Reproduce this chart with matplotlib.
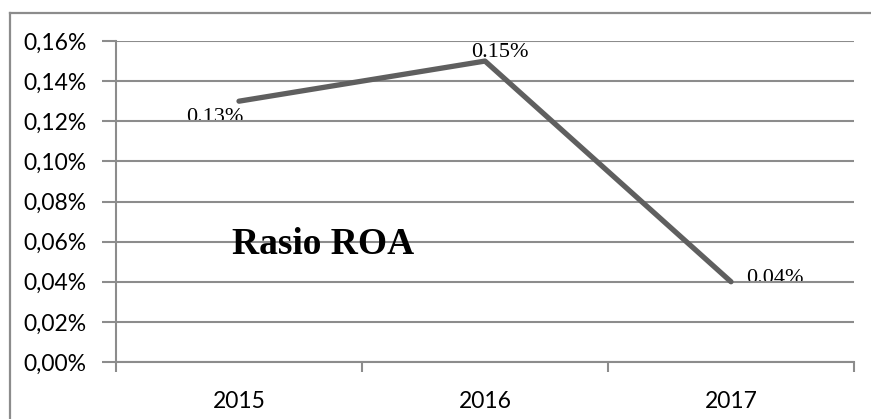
import matplotlib.pyplot as plt
from matplotlib.lines import Line2D
import numpy as np

years = ['2015', '2016', '2017']
roa = [0.13, 0.15, 0.04]
labels = ['0.13%', '0.15%', '0.04%']
yticks = [0.00, 0.02, 0.04, 0.06, 0.08, 0.10, 0.12, 0.14, 0.16]

grid_col = '#8c8c8c'
line_col = '#5f5f5f'

fig = plt.figure(figsize=(8.71, 4.19), dpi=100)
ax = fig.add_axes([116 / 871, 1 - 362 / 419, (854 - 116) / 871, (362 - 41) / 419])

# outer chart border (only top and left fall inside the image)
bx, by = 10 / 871, 1 - 13 / 419
fig.lines.append(Line2D([bx, 1.0], [by, by], transform=fig.transFigure,
                        color=grid_col, linewidth=1.6))
fig.lines.append(Line2D([bx, bx], [0.0, by], transform=fig.transFigure,
                        color=grid_col, linewidth=1.6))

x = np.arange(len(years))
ax.plot(x, roa, color=line_col, linewidth=3.8, solid_capstyle='round', zorder=3)

ax.set_xlim(-0.5, len(years) - 0.5)
ax.set_ylim(0, 0.16)
ax.set_yticks(yticks)
ax.set_yticklabels(['{:.2f}%'.format(v).replace('.', ',') for v in yticks])
ax.set_xticks(x)
ax.set_xticklabels(years)
ax.set_xticks(np.arange(len(years) + 1) - 0.5, minor=True)

for lab in ax.get_yticklabels() + ax.get_xticklabels():
    lab.set_fontfamily('Lato')
    lab.set_fontsize(16.5)

ax.grid(axis='y', color=grid_col, linewidth=1.5, zorder=1)
ax.set_axisbelow(False)
ax.tick_params(axis='y', length=10, width=1.5, color=grid_col, pad=11)
ax.tick_params(axis='x', which='major', length=0, pad=21)
ax.tick_params(axis='x', which='minor', length=7, width=1.5, color=grid_col)

for side in ['top', 'right']:
    ax.spines[side].set_visible(False)
for side in ['left', 'bottom']:
    ax.spines[side].set_color(grid_col)
    ax.spines[side].set_linewidth(1.5)

serif = ['Liberation Serif', 'DejaVu Serif']
ax.text(x[0] + 0.02, roa[0] - 0.008, labels[0], ha='right', va='center',
        fontsize=16, family=serif, zorder=0.5)
ax.text(x[1] + 0.06, roa[1] + 0.0043, labels[1], ha='center', va='center',
        fontsize=16, family=serif, zorder=0.5)
ax.text(x[2] + 0.06, roa[2] + 0.0017, labels[2], ha='left', va='center',
        fontsize=16, family=serif, zorder=0.5)

ax.text(0.341, 0.0587, 'Rasio ROA', ha='center', va='center', fontsize=27,
        fontweight='bold', family=serif, zorder=4)

fig.savefig('out.png', dpi=100)
